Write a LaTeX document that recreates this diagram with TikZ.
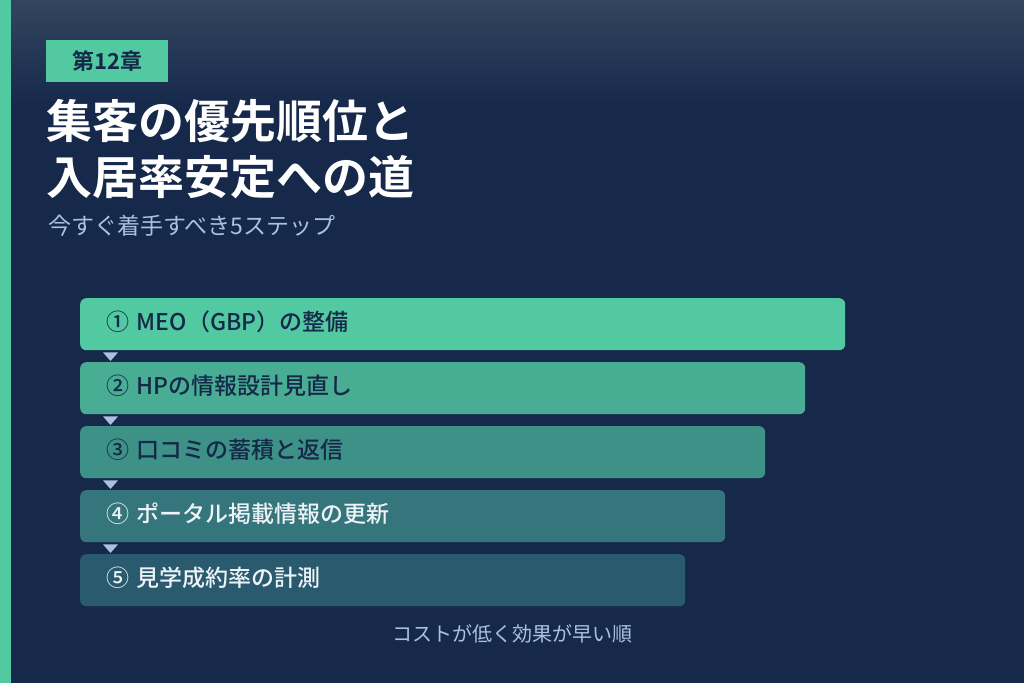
\documentclass[tikz,border=0pt]{standalone}
\usepackage{fontspec}
\setmainfont{Noto Sans CJK JP}[BoldFont={Noto Sans CJK JP Bold}]
\newfontfamily\medfont{Noto Sans CJK JP Medium}
\usepackage{xcolor}
\usetikzlibrary{positioning}

\definecolor{navy}{HTML}{16294B}
\definecolor{navytop}{HTML}{33455F}
\definecolor{mint}{HTML}{52C9A0}
\definecolor{deepteal}{HTML}{2A5A6E}
\definecolor{inknavy}{HTML}{15284A}
\definecolor{paleblue}{HTML}{A9C3DF}
\definecolor{softwhite}{HTML}{EEF3F8}

\begin{document}
\begin{tikzpicture}[x=1pt,y=-1pt,
    stepbar/.style={anchor=north west, rounded corners=6pt, inner sep=0pt,
      minimum height=52pt, text height=17pt, text depth=4pt, align=left,
      font=\medfont\fontsize{23}{27}\selectfont},
    stepmark/.style={fill=paleblue},
  ]
  \useasboundingbox (0,0) rectangle (1024,683);
  % background
  \fill[navy] (0,0) rectangle (1024,683);
  \shade[top color=navytop, bottom color=navy] (0,0) rectangle (1024,106);
  \fill[mint] (0,0) rectangle (11,683);

  % heading
  \node[fill=mint, anchor=north west, minimum width=122pt, minimum height=42pt,
    inner sep=0pt, text=inknavy, font=\bfseries\fontsize{22}{24}\selectfont]
    (badge) at (46,40) {第12章};
  \node[anchor=north west, inner sep=0pt, align=left, text=white,
    font=\bfseries\fontsize{46}{56}\selectfont]
    (title) at (46,99) {集客の優先順位と\\入居率安定への道};
  \node[anchor=north west, inner sep=0pt, text=paleblue,
    font=\fontsize{23}{26}\selectfont]
    (subtitle) at (48,215) {今すぐ着手すべき5ステップ};

  % steps
  \foreach \i/\w/\txt/\tc in {1/765/{① MEO（GBP）の整備}/inknavy,
                              2/725/{② HPの情報設計見直し}/inknavy,
                              3/685/{③ 口コミの蓄積と返信}/inknavy,
                              4/645/{④ ポータル掲載情報の更新}/softwhite,
                              5/605/{⑤ 見学成約率の計測}/softwhite} {
    \pgfmathsetmacro{\pct}{100-25*(\i-1)}
    \colorlet{barfill}{mint!\pct!deepteal}
    \node[stepbar, fill=barfill, text=\tc, text width=\w pt]
      (step\i) at (80,{298+64*(\i-1)}) {\hspace*{26pt}\txt};
  }
  \foreach \a/\b in {1/2,2/3,3/4,4/5}
    \fill[stepmark] ([xshift=23pt,yshift=-2pt]step\a.south west) -- ++(15,0)
      -- ([xshift=30.5pt,yshift=1pt]step\b.north west) -- cycle;

  \node[text=paleblue, font=\fontsize{20}{22}\selectfont, inner sep=0pt]
    (note) at (512,634) {コストが低く効果が早い順};
\end{tikzpicture}
\end{document}
